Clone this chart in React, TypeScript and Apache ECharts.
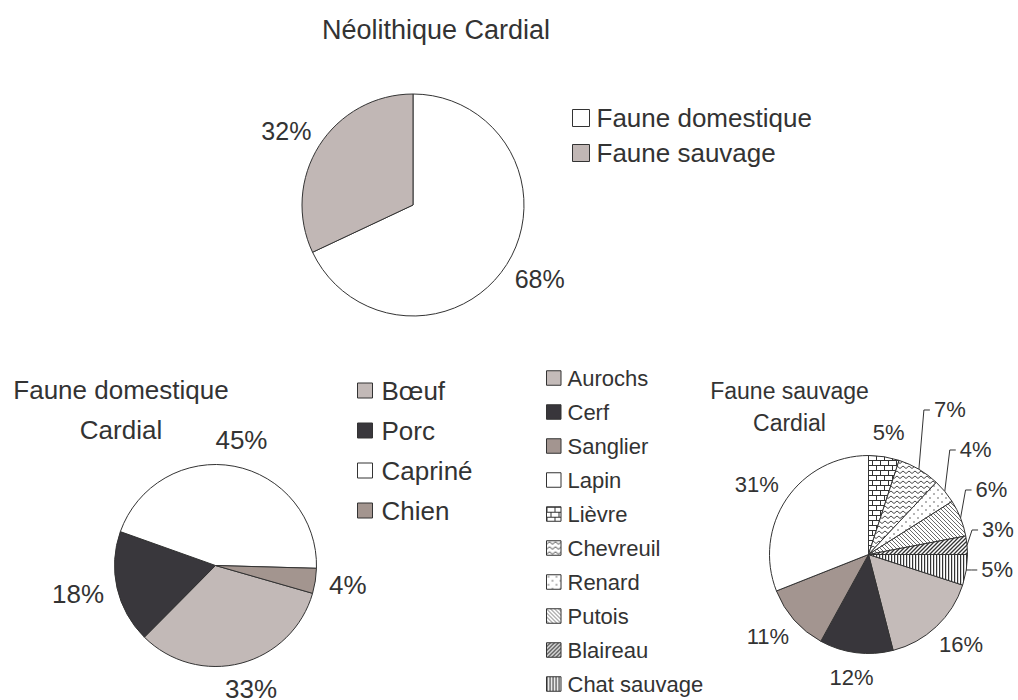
import React, { useEffect, useRef } from 'react';
import * as echarts from 'echarts';

// ---------- texts ----------
const MAIN_TITLE = 'Néolithique Cardial';
const DOM_TITLE = 'Faune domestique\nCardial';
const WILD_TITLE = 'Faune sauvage\nCardial';

// ---------- data (percentages) ----------
const overviewNames = ['Faune domestique', 'Faune sauvage'];
const overviewValues = [68, 32];

const domNames = ['Bœuf', 'Porc', 'Capriné', 'Chien'];
const domValues = [33, 18, 45, 4];

const wildNames = ['Aurochs', 'Cerf', 'Sanglier', 'Lapin', 'Lièvre', 'Chevreuil', 'Renard', 'Putois', 'Blaireau', 'Chat sauvage'];
const wildValues = [16, 12, 11, 31, 5, 7, 4, 6, 3, 5];
const wildLeaderNames = ['Chevreuil', 'Renard', 'Putois', 'Blaireau', 'Chat sauvage'];

// ---------- styles ----------
const FONT = '"Liberation Sans", Arial, Helvetica, sans-serif';
const TEXT = '#333333';
const INK = '#333333';

function tile(w: number, h: number, body: string) {
  const svg = `<svg xmlns="http://www.w3.org/2000/svg" width="${w}" height="${h}"><rect width="${w}" height="${h}" fill="#ffffff"/>${body}</svg>`;
  return {
    image: 'data:image/svg+xml;charset=utf-8,' + encodeURIComponent(svg),
    imageWidth: w,
    imageHeight: h,
    repeat: 'repeat',
  };
}

const brick = tile(8, 10, `<path d="M0 0.5H8M0 5.5H8M0.5 0.5V5.5M4.5 5.5V10" stroke="${INK}" stroke-width="1" fill="none"/>`);
const wave = tile(6, 5, `<path d="M0 3.5L3 1L6 3.5" stroke="${INK}" stroke-width="0.9" fill="none"/>`);
const dots = tile(8, 8, `<rect x="1.4" y="1.4" width="1.2" height="1.2" fill="${INK}"/><rect x="5.4" y="5.4" width="1.2" height="1.2" fill="${INK}"/>`);
const backDiag = tile(4, 4, `<path d="M0 0L4 4M-1 3L1 5M3 -1L5 1" stroke="#444" stroke-width="0.8" fill="none"/>`);
const boldDiag = tile(4, 4, `<path d="M0 4L4 0M-1 1L1 -1M3 5L5 3" stroke="${INK}" stroke-width="1.3" fill="none"/>`);
const vStripes = tile(3, 4, `<rect x="0" y="0" width="1.2" height="4" fill="${INK}"/>`);

const overviewColors: any[] = ['#ffffff', '#c1b7b5'];
const domColors: any[] = ['#c2b9b7', '#39373c', '#ffffff', '#a3958f'];
const wildColors: any[] = ['#c4bbb9', '#38363b', '#a39590', '#ffffff', brick, wave, dots, backDiag, boldDiag, vStripes];

// ---------- pie geometry ----------
const OV_CENTER = [413, 205];
const OV_R = 111;
const OV_START = 90;
const DOM_CENTER = [215.5, 565.5];
const DOM_R = 101;
const DOM_START = -16;
const WILD_CENTER = [868.5, 554.5];
const WILD_R = 99;
const WILD_START = -18;

const LABEL_GAP = 14;
const LEADER_STEP = 40;

function makeLabelLayout(values: number[], startAngle: number, center: number[], r: number, leaderIdx: number[] = []) {
  const total = values.reduce((a, b) => a + b, 0);
  const edge = (i: number) => {
    let acc = 0;
    for (let k = 0; k < i; k++) acc += values[k];
    const mid = ((startAngle - ((acc + values[i] / 2) / total) * 360) * Math.PI) / 180;
    const dx = Math.cos(mid);
    const dy = -Math.sin(mid);
    return { dx, dy, x: center[0] + r * dx, y: center[1] + r * dy };
  };
  return (params: any) => {
    const i = params.dataIndex;
    const p = edge(i);
    const pos = leaderIdx.indexOf(i);
    if (pos >= 0) {
      const last = edge(leaderIdx[leaderIdx.length - 1]);
      const ly = last.y - (leaderIdx.length - 1 - pos) * LEADER_STEP;
      return {
        x: p.x + 15,
        y: ly,
        align: 'left',
        verticalAlign: 'middle',
        labelLinePoints: [
          [p.x, p.y],
          [p.x + 5, ly],
          [p.x + 11, ly],
        ],
      };
    }
    const w = params.labelRect.width;
    const h = params.labelRect.height;
    return {
      x: p.x + p.dx * (LABEL_GAP + w / 2),
      y: p.y + p.dy * (LABEL_GAP + h / 2),
      align: 'center',
      verticalAlign: 'middle',
    };
  };
}

const pctFormatter = (p: any) => `${Math.round(p.percent)}%`;

function pieSeries(
  names: string[],
  values: number[],
  colors: any[],
  center: number[],
  r: number,
  startAngle: number,
  fontSize: number,
  leaderNames: string[] = []
) {
  const leaderIdx = leaderNames.map((n) => names.indexOf(n));
  return {
    type: 'pie',
    center,
    radius: r,
    startAngle,
    clockwise: true,
    avoidLabelOverlap: false,
    silent: true,
    emphasis: { disabled: true },
    itemStyle: { borderColor: INK, borderWidth: 1 },
    label: {
      show: true,
      position: 'outside',
      formatter: pctFormatter,
      fontSize,
      lineHeight: fontSize,
      color: TEXT,
      fontFamily: FONT,
    },
    labelLine: { show: false },
    labelLayout: makeLabelLayout(values, startAngle, center, r, leaderIdx),
    data: names.map((name, i) => ({
      name,
      value: values[i],
      itemStyle: { color: colors[i] },
      labelLine: leaderIdx.includes(i)
        ? { show: true, lineStyle: { color: INK, width: 1 } }
        : { show: false },
    })),
  };
}

function legendFor(names: string[], left: number, top: number, icon: number, gap: number, fontSize: number, textPad: number) {
  return {
    data: names,
    orient: 'vertical',
    left,
    top,
    padding: 0,
    icon: 'rect',
    itemWidth: icon,
    itemHeight: icon,
    itemGap: gap,
    selectedMode: false,
    itemStyle: { borderColor: INK, borderWidth: 1 },
    textStyle: {
      fontSize,
      lineHeight: fontSize,
      color: TEXT,
      fontFamily: FONT,
      padding: [0, 0, 0, textPad],
    },
  };
}

const option: any = {
  animation: false,
  backgroundColor: '#ffffff',
  legend: [
    legendFor(overviewNames, 572, 105, 17, 9, 26, 2),
    legendFor(domNames, 357, 377.5, 15, 14, 26, 4),
    legendFor(wildNames, 546, 367, 14.5, 12, 22, 1.5),
  ],
  graphic: [
    {
      type: 'text',
      x: 436,
      y: 30,
      style: { text: MAIN_TITLE, fontSize: 27, fontFamily: FONT, fill: TEXT, align: 'center', verticalAlign: 'middle' },
    },
    {
      type: 'text',
      x: 121,
      y: 410,
      style: { text: DOM_TITLE, fontSize: 26, lineHeight: 40, fontFamily: FONT, fill: TEXT, align: 'center', verticalAlign: 'middle' },
    },
    {
      type: 'text',
      x: 789.5,
      y: 406.75,
      style: { text: WILD_TITLE, fontSize: 23, lineHeight: 32.5, fontFamily: FONT, fill: TEXT, align: 'center', verticalAlign: 'middle' },
    },
  ],
  series: [
    pieSeries(overviewNames, overviewValues, overviewColors, OV_CENTER, OV_R, OV_START, 25),
    pieSeries(domNames, domValues, domColors, DOM_CENTER, DOM_R, DOM_START, 26),
    pieSeries(wildNames, wildValues, wildColors, WILD_CENTER, WILD_R, WILD_START, 22, wildLeaderNames),
  ],
};

export default function App() {
  const ref = useRef<HTMLDivElement>(null);
  useEffect(() => {
    if (!ref.current) return;
    const chart = echarts.init(ref.current, null, { renderer: 'svg' });
    chart.setOption(option);
    return () => chart.dispose();
  }, []);
  return (
    <div
      ref={ref}
      style={{ position: 'fixed', left: 0, top: 0, width: 1018, height: 700, background: '#ffffff' }}
    />
  );
}
